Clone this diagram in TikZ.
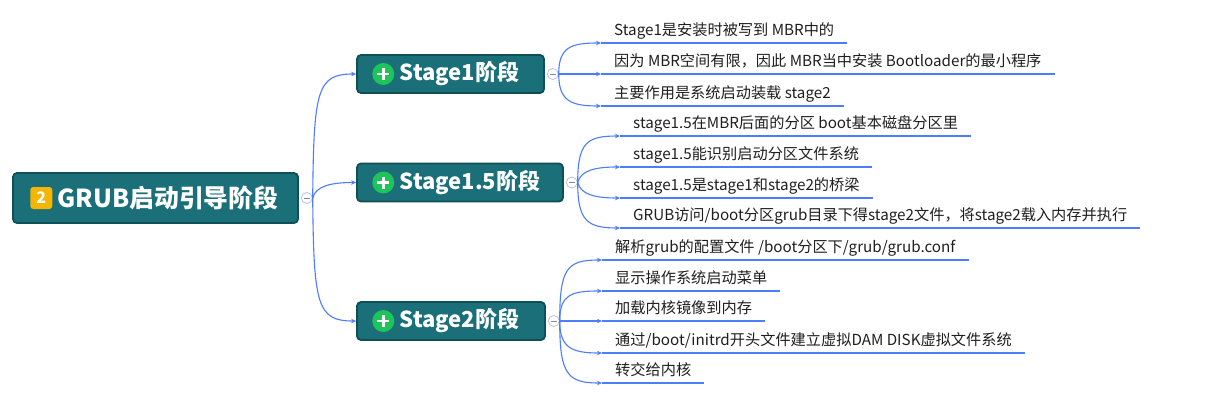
\documentclass[tikz,border=0pt]{standalone}
\usepackage{fontspec}
\setmainfont{Noto Sans CJK SC}
\usetikzlibrary{arrows.meta, positioning}

\definecolor{boxteal}{HTML}{1A6F79}
\definecolor{boxedge}{HTML}{0F4F57}
\definecolor{linkblue}{HTML}{4D7DFF}
\definecolor{plusgreen}{HTML}{1DC45A}
\definecolor{badgeyellow}{HTML}{F6B500}
\definecolor{foldgray}{HTML}{B9C3E6}
\definecolor{leafink}{HTML}{1F1F1F}

\tikzset{
	topic/.style={draw=boxedge, line width=1.8pt, fill=boxteal, rounded corners=4pt,
		minimum height=38pt},
	badge/.style={fill=badgeyellow, rounded corners=3pt, minimum size=22pt, inner sep=0pt,
		text=white, font=\fontsize{16}{16}\selectfont\bfseries},
	plus/.style={circle, fill=plusgreen, minimum size=22pt, inner sep=0pt,
		path picture={\draw [white, line width=2.6pt]
			([xshift=-6pt]path picture bounding box.center) -- ([xshift=6pt]path picture bounding box.center)
			([yshift=-6pt]path picture bounding box.center) -- ([yshift=6pt]path picture bounding box.center);}},
	stagetext/.style={inner sep=0pt, text=white, font=\fontsize{22}{25}\selectfont\bfseries},
	fold/.style={circle, draw=foldgray, fill=white, line width=0.8pt, minimum size=11pt, inner sep=0pt,
		path picture={\draw [foldgray!70!black, line width=0.7pt]
			([xshift=-3pt]path picture bounding box.center) -- ([xshift=3pt]path picture bounding box.center);}},
	leaf/.style={anchor=south west, inner xsep=13pt, inner ysep=4pt, text height=12pt,
		text depth=3pt, text=leafink, font=\fontsize{15.2}{18}\selectfont},
	link/.style={draw=linkblue, line width=1.1pt, -{Stealth[length=5pt, width=4.5pt]}},
	uline/.style={draw=linkblue, line width=1.1pt}
}

\begin{document}
\begin{tikzpicture}[x=1pt, y=-1pt]
	\useasboundingbox [fill=white] (0,0) rectangle (1226,415);

	% root
	\node (root) [topic, minimum width=285pt, minimum height=50pt] at (155.5,198) {};
	\node (badge) [badge, right=18pt of root.west] {2};
	\node (rootlabel) [right=5pt of badge, inner sep=0pt, text=white,
		font=\fontsize{24.8}{28}\selectfont\bfseries] {GRUB启动引导阶段};
	\node (c0) [fold, right=2pt of root] {};

	% stages
	\node (s1) [topic, minimum width=187pt] at (450.5,74) {};
	\node (p1) [plus, right=16pt of s1.west] {};
	\node (s1label) [stagetext, right=5pt of p1] {Stage1阶段};
	\node (c1) [fold, right=2pt of s1] {};

	\node (s15) [topic, minimum width=206pt] at (460,182.5) {};
	\node (p15) [plus, right=16pt of s15.west] {};
	\node (s15label) [stagetext, right=5pt of p15] {Stage1.5阶段};
	\node (c15) [fold, right=2pt of s15] {};

	\node (s2) [topic, minimum width=188pt] at (451,321) {};
	\node (p2) [plus, right=16pt of s2.west] {};
	\node (s2label) [stagetext, right=5pt of p2] {Stage2阶段};
	\node (c2) [fold, right=2pt of s2] {};

	% leaves
	\node (s1a) [leaf] at (601,43) {Stage1是安装时被写到 MBR中的};
	\node (s1b) [leaf] at (601,74) {因为 MBR空间有限，因此 MBR当中安装 Bootloader的最小程序};
	\node (s1c) [leaf] at (601,106) {主要作用是系统启动装载 stage2};

	\node (s15a) [leaf] at (620,136) {stage1.5在MBR后面的分区 boot基本磁盘分区里};
	\node (s15b) [leaf] at (620,167) {stage1.5能识别启动分区文件系统};
	\node (s15c) [leaf] at (620,198) {stage1.5是stage1和stage2的桥梁};
	\node (s15d) [leaf] at (620,228) {GRUB访问/boot分区grub目录下得stage2文件，将stage2载入内存并执行};

	\node (s2a) [leaf] at (602,260) {解析grub的配置文件 /boot分区下/grub/grub.conf};
	\node (s2b) [leaf] at (602,291) {显示操作系统启动菜单};
	\node (s2c) [leaf] at (602,321) {加载内核镜像到内存};
	\node (s2d) [leaf] at (602,353) {通过/boot/initrd开头文件建立虚拟DAM DISK虚拟文件系统};
	\node (s2e) [leaf] at (602,383) {转交给内核};

	% underlines
	\draw [uline] (s1a.south west) -- (s1a.south east);
	\draw [uline] (s1b.south west) -- (s1b.south east);
	\draw [uline] (s1c.south west) -- (s1c.south east);
	\draw [uline] (s15a.south west) -- (s15a.south east);
	\draw [uline] (s15b.south west) -- (s15b.south east);
	\draw [uline] (s15c.south west) -- (s15c.south east);
	\draw [uline] (s15d.south west) -- (s15d.south east);
	\draw [uline] (s2a.south west) -- (s2a.south east);
	\draw [uline] (s2b.south west) -- (s2b.south east);
	\draw [uline] (s2c.south west) -- (s2c.south east);
	\draw [uline] (s2d.south west) -- (s2d.south east);
	\draw [uline] (s2e.south west) -- (s2e.south east);

	% root to stages
	\draw [link] (c0.east) .. controls +(1,-108) and +(-39,0) .. (s1.west);
	\draw [link] (c0.east) .. controls +(3,-12) and +(-25,0) .. (s15.west);
	\draw [link] (c0.east) .. controls +(1,107) and +(-39,0) .. (s2.west);

	% stages to leaves
	\draw [link] (c1.east) .. controls +(0,-27) and +(-30,0) .. (s1a.south west);
	\draw [link] (c1.east) -- (s1b.south west);
	\draw [link] (c1.east) .. controls +(0,27) and +(-30,0) .. (s1c.south west);

	\draw [link] (c15.east) .. controls +(0,-40) and +(-33,0) .. (s15a.south west);
	\draw [link] (c15.east) .. controls +(3,-12) and +(-25,0) .. (s15b.south west);
	\draw [link] (c15.east) .. controls +(3,12) and +(-25,0) .. (s15c.south west);
	\draw [link] (c15.east) .. controls +(0,38) and +(-33,0) .. (s15d.south west);

	\draw [link] (c2.east) .. controls +(0,-53) and +(-35,0) .. (s2a.south west);
	\draw [link] (c2.east) .. controls +(0,-27) and +(-30,0) .. (s2b.south west);
	\draw [link] (c2.east) -- (s2c.south west);
	\draw [link] (c2.east) .. controls +(0,27) and +(-30,0) .. (s2d.south west);
	\draw [link] (c2.east) .. controls +(0,53) and +(-35,0) .. (s2e.south west);
\end{tikzpicture}
\end{document}
